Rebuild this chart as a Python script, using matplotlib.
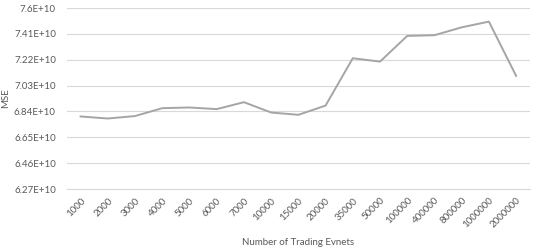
import matplotlib
matplotlib.use("Agg")
import matplotlib.pyplot as plt
from matplotlib.ticker import FuncFormatter

events = ["1000", "2000", "3000", "4000", "5000", "6000", "7000", "10000",
          "15000", "20000", "35000", "50000", "100000", "400000", "800000",
          "1000000", "2000000"]
mse = [6.803e10, 6.788e10, 6.806e10, 6.864e10, 6.869e10, 6.857e10, 6.908e10,
       6.832e10, 6.815e10, 6.883e10, 7.231e10, 7.206e10, 7.395e10, 7.400e10,
       7.458e10, 7.500e10, 7.101e10]
y_ticks = [6.27e10, 6.46e10, 6.65e10, 6.84e10, 7.03e10, 7.22e10, 7.41e10, 7.6e10]

plt.rcParams['font.family'] = ['Lato', 'DejaVu Sans']
text_color = "#595959"
grid_color = "#d9d9d9"

fig = plt.figure(figsize=(5.4, 2.5), dpi=100)
ax = fig.add_axes([0.124, 0.244, 0.857, 0.724])

x = range(len(events))
ax.plot(x, mse, color="#a5a5a5", linewidth=1.4)

ax.set_xlim(-0.5, len(events) - 0.5)
ax.set_ylim(y_ticks[0], y_ticks[-1])
ax.set_yticks(y_ticks)
ax.yaxis.set_major_formatter(FuncFormatter(
    lambda v, p: ("%.2f" % (v / 1e10)).rstrip("0") + "E+10"))
ax.set_xticks(list(x))
ax.set_xticklabels(events, rotation=45, ha="right", rotation_mode="anchor")

ax.grid(axis="y", color=grid_color, linewidth=0.8)
ax.set_axisbelow(True)
for side in ["top", "right", "left"]:
    ax.spines[side].set_visible(False)
ax.spines["bottom"].set_color(grid_color)
ax.spines["bottom"].set_linewidth(0.8)
ax.tick_params(length=0, labelsize=7, colors=text_color)
ax.tick_params(axis="x", pad=5)
ax.tick_params(axis="y", pad=8)

ax.set_ylabel("MSE", fontsize=7, color=text_color)
ax.yaxis.set_label_coords(-0.122, 0.5)
ax.set_xlabel("Number of Trading Evnets", fontsize=7, color=text_color, labelpad=6)

fig.savefig("out.png", dpi=100)
